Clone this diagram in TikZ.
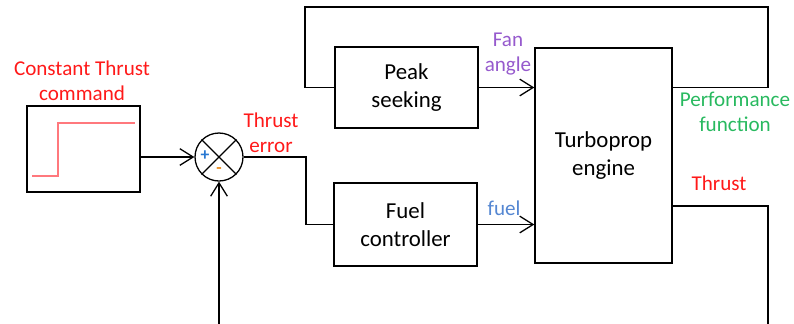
\documentclass[tikz,border=0pt]{standalone}
\usepackage{fontspec}
\setmainfont{Carlito}
\usepackage{tikz}
\usetikzlibrary{arrows.meta,positioning}

\definecolor{lblred}{RGB}{255,25,25}
\definecolor{lblpurple}{RGB}{150,90,205}
\definecolor{lblgreen}{RGB}{40,185,95}
\definecolor{lblblue}{RGB}{85,135,210}
\definecolor{steppink}{RGB}{255,120,125}
\definecolor{plusblue}{RGB}{40,120,210}
\definecolor{minusorange}{RGB}{235,140,30}

\begin{document}
\begin{tikzpicture}[
  x=0.03cm, y=-0.03cm,
  block/.style={rectangle, draw, line width=1.2pt, align=center,
                font=\fontsize{19.5}{24}\selectfont, inner sep=0pt},
  summer/.style={circle, draw, line width=1.1pt, minimum size=1.44cm, inner sep=0pt},
  label/.style={align=center, font=\fontsize{18}{21.5}\selectfont},
  sign/.style={inner sep=0pt, font=\fontsize{15}{15}\selectfont\bfseries},
  signal/.style={line width=1.2pt},
  sig/.style={signal, -{Straight Barb[length=4mm,width=5mm,line width=1.1pt]}},
]
\useasboundingbox (0,0) rectangle (794,323);

% Blocks
\node[block, minimum width=3.39cm, minimum height=2.58cm] (cmd) at (83.5,149) {};
\node[summer] (sum) at (219,157) {};
\node[block, minimum width=4.29cm, minimum height=2.43cm] (peak) at (406.5,87.5) {Peak\\seeking};
\node[block, minimum width=4.29cm, minimum height=2.49cm] (fuelc) at (405.5,224.5) {Fuel\\controller};
\node[block, minimum width=4.11cm, minimum height=6.45cm] (turbo) at (603.5,155.5) {Turboprop\\engine};

% Step inside the command block
\draw[steppink, line width=0.9pt] (32,176) -- (58,176) -- (58,123) -- (135,123);

% Summing junction
\draw[line width=1.1pt] (sum.north west) -- (sum.south east);
\draw[line width=1.1pt] (sum.north east) -- (sum.south west);
\node[sign, text=plusblue] (plus) at (205,156) {+};
\node[sign, text=minusorange] (minus) at (219,171) {-};

% Corner points of the loops
\coordinate (errjoint) at (306,157);
\coordinate (loopR) at (768,7);
\coordinate (loopL) at (305,7);
\coordinate (thrR) at (768,206);
\coordinate (thrB) at (768,324.5);

% Labels
\node[label, text=lblred] (cmdlbl) at (82,81) {Constant Thrust\\command};
\node[label, text=lblred] (errlbl) at (271,133) {Thrust\\error};
\node[label, text=lblpurple] (fanlbl) at (508,54) {Fan\\angle};
\node[label, text=lblblue] (fuellbl) at (504,208) {fuel};
\node[label, text=lblgreen] (perflbl) at (735,112) {Performance\\function};
\node[label, text=lblred] (thrlbl) at (719,183) {Thrust};

% Signals
\draw[sig] (cmd.east |- sum.west) -- (sum.west);
\draw[signal] (sum.east) -- (errjoint) |- (fuelc.west);
\draw[sig] (peak.east) -- (peak.east -| turbo.west);
\draw[sig] (fuelc.east) -- (fuelc.east -| turbo.west);
\draw[signal] (turbo.east |- peak.east) -| (loopR) -- (loopL) |- (peak.west);
\draw[sig] (turbo.east |- thrR) -- (thrR) -- (thrB) -| (sum.south);
\end{tikzpicture}
\end{document}
